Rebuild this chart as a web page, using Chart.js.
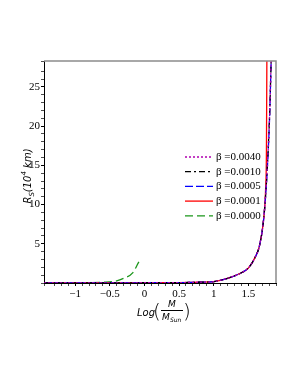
<!DOCTYPE html>
<html>
<head>
<meta charset="utf-8">
<script src="https://cdn.jsdelivr.net/npm/chart.js@4"></script>
<style>
  body { margin: 0; background: #fff; }
  canvas { display: block; }
</style>
</head>
<body>
<canvas id="rs-chart" width="298" height="385"></canvas>
<script>
// values
const logMass = [-1.45, -1.0, -0.5, 0, 0.5, 0.8, 1.0, 1.2, 1.4, 1.5, 1.6, 1.66, 1.72, 1.76, 1.79, 1.81, 1.83];
const rsBeta0040 = [0.02, 0.02, 0.02, 0.03, 0.05, 0.1, 0.18, 0.6, 1.3, 1.9, 3.3, 4.7, 8.0, 12.5, 17.5, 22.0, 28.3];
const rsBeta0010 = [0.02, 0.02, 0.02, 0.03, 0.05, 0.1, 0.18, 0.6, 1.3, 1.9, 3.3, 4.7, 8.0, 12.5, 17.5, 22.0, 28.3];
const rsBeta0005 = [0.02, 0.02, 0.02, 0.03, 0.05, 0.1, 0.18, 0.6, 1.3, 1.9, 3.3, 4.7, 8.0, 12.4, 17.3, 21.8, 28.3];

const logMassB0001 = [-1.45, -1.0, -0.5, 0, 0.5, 0.8, 1.0, 1.2, 1.4, 1.5, 1.6, 1.66, 1.72, 1.75, 1.762, 1.768];
const rsBeta0001 = [0.02, 0.02, 0.02, 0.03, 0.05, 0.1, 0.18, 0.6, 1.3, 1.9, 3.3, 4.7, 8.0, 12.0, 17.0, 28.3];

const logMassB0000 = [-1.45, -1.0, -0.6, -0.44, -0.3, -0.17, -0.08];
const rsBeta0000 = [0.01, 0.02, 0.1, 0.2, 0.6, 1.3, 2.7];

const xTickLabels = [-1, -0.5, 0, 0.5, 1, 1.5];
const yTickLabels = [5, 10, 15, 20, 25];

const toPoints = (xs, ys) => xs.map((x, i) => ({ x: x, y: ys[i] }));
const isLabel = (list, v) => list.some(t => Math.abs(t - v) < 1e-6);
const fmt = v => (v < 0 ? "\u2212" + String(-v) : String(v));

// frame on top and right
const framePlugin = {
  id: "frame",
  afterDraw(chart) {
    const { ctx, chartArea: a } = chart;
    ctx.save();
    ctx.strokeStyle = "#8c8c8c";
    ctx.lineWidth = 1.5;
    ctx.beginPath();
    ctx.moveTo(a.left, a.top);
    ctx.lineTo(a.right, a.top);
    ctx.lineTo(a.right, a.bottom);
    ctx.stroke();
    ctx.restore();
  }
};

// legend inside the plot, like the original
const legendPlugin = {
  id: "innerLegend",
  afterDraw(chart) {
    const { ctx, chartArea: a } = chart;
    ctx.save();
    chart.data.datasets.forEach((ds, i) => {
      const y = a.top + 96 + i * 14.7;
      const x0 = a.left + 141;
      ctx.strokeStyle = ds.borderColor;
      ctx.lineWidth = 1.3;
      ctx.setLineDash(ds.borderDash || []);
      ctx.beginPath();
      ctx.moveTo(x0, y);
      ctx.lineTo(x0 + 28, y);
      ctx.stroke();
      ctx.setLineDash([]);
      ctx.fillStyle = "#000";
      ctx.font = "11px 'Liberation Serif', serif";
      ctx.textBaseline = "middle";
      ctx.fillText(ds.label, x0 + 31, y);
    });
    ctx.restore();
  }
};

// axis titles with sub/superscripts
const titlePlugin = {
  id: "axisTitles",
  afterDraw(chart) {
    const { ctx, chartArea: a } = chart;
    ctx.save();
    ctx.fillStyle = "#000";
    ctx.textBaseline = "alphabetic";

    // y title, rotated
    ctx.translate(a.left - 13, a.top + 115);
    ctx.rotate(-Math.PI / 2);
    const big = "italic 10px 'DejaVu Sans', sans-serif";
    const small = "italic 7px 'DejaVu Sans', sans-serif";
    const parts = [
      { t: "R", f: big, dy: 0 },
      { t: "S", f: small, dy: 3 },
      { t: "(10", f: big, dy: 0 },
      { t: "4", f: small, dy: -5 },
      { t: " km)", f: big, dy: 0 }
    ];
    let w = 0;
    parts.forEach(p => { ctx.font = p.f; w += ctx.measureText(p.t).width; });
    let x = -w / 2;
    parts.forEach(p => {
      ctx.font = p.f;
      ctx.fillText(p.t, x, p.dy);
      x += ctx.measureText(p.t).width;
    });
    ctx.setTransform(1, 0, 0, 1, 0, 0);

    // x title: Log( M / M_Sun )
    const cx = a.left + 93;
    ctx.font = big;
    ctx.fillText("Log", cx, 316);
    ctx.font = "200 20px 'DejaVu Sans', sans-serif";
    ctx.fillText("(", cx + 16, 318);
    ctx.fillText(")", cx + 46, 318);
    ctx.font = "italic 9px 'DejaVu Sans', sans-serif";
    ctx.textAlign = "center";
    ctx.fillText("M", cx + 35, 307);
    ctx.strokeStyle = "#000";
    ctx.lineWidth = 1;
    ctx.beginPath();
    ctx.moveTo(cx + 24, 310.5);
    ctx.lineTo(cx + 46, 310.5);
    ctx.stroke();
    ctx.textAlign = "left";
    ctx.fillText("M", cx + 25, 320);
    ctx.font = "italic 6px 'DejaVu Sans', sans-serif";
    ctx.fillText("Sun", cx + 33, 322);
    ctx.restore();
  }
};

const ctx = document.getElementById("rs-chart").getContext("2d");

new Chart(ctx, {
  type: "line",
  data: {
    datasets: [
      {
        label: "\u03b2 =0.0040",
        data: toPoints(logMass, rsBeta0040),
        borderColor: "#b000b0",
        borderDash: [2, 2]
      },
      {
        label: "\u03b2 =0.0010",
        data: toPoints(logMass, rsBeta0010),
        borderColor: "#000000",
        borderDash: [6, 3, 2, 3]
      },
      {
        label: "\u03b2 =0.0005",
        data: toPoints(logMass, rsBeta0005),
        borderColor: "#0000ff",
        borderDash: [8, 3]
      },
      {
        label: "\u03b2 =0.0001",
        data: toPoints(logMassB0001, rsBeta0001),
        borderColor: "#ff0000"
      },
      {
        label: "\u03b2 =0.0000",
        data: toPoints(logMassB0000, rsBeta0000),
        borderColor: "#1a961a",
        borderDash: [8, 4]
      }
    ]
  },
  options: {
    responsive: false,
    animation: false,
    layout: { padding: { top: 61, right: 22, left: 0, bottom: 0 } },
    elements: {
      point: { radius: 0 },
      line: { borderWidth: 1.3, cubicInterpolationMode: "monotone", fill: false }
    },
    plugins: {
      legend: { display: false },
      tooltip: { enabled: false }
    },
    scales: {
      x: {
        type: "linear",
        min: -1.45,
        max: 1.9,
        afterFit: s => { s.height = 102; },
        ticks: {
          stepSize: 0.1,
          autoSkip: false,
          maxRotation: 0,
          padding: 2,
          color: "#000",
          font: { family: "'Liberation Serif', serif", size: 11 },
          callback: v => (isLabel(xTickLabels, v) ? fmt(Math.round(v * 10) / 10) : "")
        },
        grid: {
          drawOnChartArea: false,
          tickLength: 3,
          tickColor: "#000",
          tickWidth: c => (c.tick && isLabel(xTickLabels, c.tick.value) ? 1 : 0.7)
        },
        border: { color: "#000", width: 1 }
      },
      y: {
        type: "linear",
        min: 0,
        max: 28.3,
        afterFit: s => { s.width = 44; },
        ticks: {
          stepSize: 1,
          autoSkip: false,
          padding: 1,
          color: "#000",
          font: { family: "'Liberation Serif', serif", size: 11 },
          callback: v => (isLabel(yTickLabels, v) ? String(v) : "")
        },
        grid: {
          drawOnChartArea: false,
          tickLength: 3,
          tickColor: "#000",
          tickWidth: c => (c.tick && isLabel(yTickLabels, c.tick.value) ? 1 : 0.7)
        },
        border: { color: "#000", width: 1 }
      }
    }
  },
  plugins: [framePlugin, legendPlugin, titlePlugin]
});
</script>
</body>
</html>
